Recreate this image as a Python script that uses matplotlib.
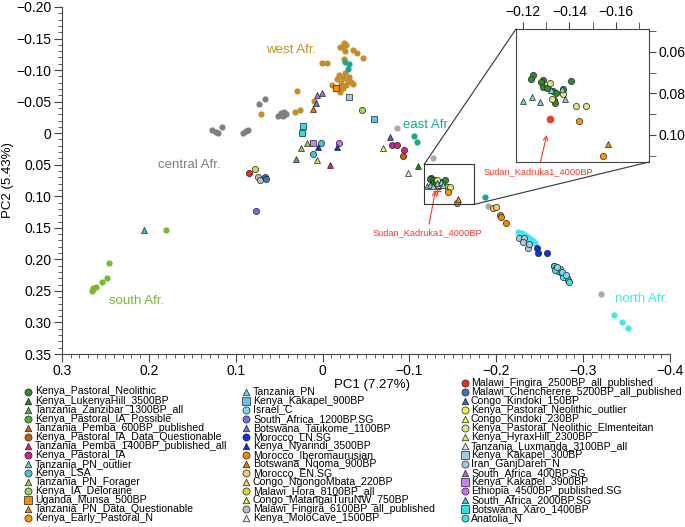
import matplotlib.pyplot as plt
from matplotlib.patches import Rectangle, ConnectionPatch
from matplotlib.ticker import MultipleLocator, FuncFormatter

plt.rcParams['font.family'] = ['Liberation Sans', 'DejaVu Sans']

# ---- reference (background) populations, no legend ----
central_pc1 = [0.127, 0.1228, 0.1201, 0.1155, 0.0914, 0.0883, 0.0856, 0.0736, 0.0664,
               0.0514, 0.048, 0.0445, 0.0422, 0.0491, 0.0457]
central_pc2 = [-0.005, -0.0014, -0.0008, -0.0103, -0.0008, -0.0035, -0.005, -0.0463, -0.0547,
               -0.0273, -0.032, -0.0336, -0.0304, -0.0288, -0.0273]

west_pc1 = [0.071, 0.03, 0.0315, 0.0261, 0.01, 0.0011, -0.0053, -0.0199, -0.0245, -0.0268,
            -0.0222, -0.026, -0.0345, -0.0398, -0.046, -0.0245, -0.0191, -0.0237, -0.0295,
            -0.0326, -0.0207, -0.0268, -0.023, -0.0199, -0.0107, -0.0257, -0.0349, -0.0165,
            -0.0303, -0.0176]
west_pc2 = [-0.0304, -0.0674, -0.0331, -0.0368, -0.051, -0.1117, -0.1117, -0.1371, -0.1434,
            -0.1398, -0.1361, -0.1303, -0.1319, -0.1266, -0.1197, -0.1171, -0.0922, -0.087,
            -0.0827, -0.0807, -0.08, -0.0764, -0.0712, -0.0658, -0.0759, -0.0954, -0.078,
            -0.0859, -0.0891, -0.0716]

east_pc1 = [-0.026, -0.0299, -0.0291, -0.1054, -0.1082, -0.1868]
east_pc2 = [-0.1124, -0.1092, -0.1022, 0.0044, 0.0135, 0.1011]

south_pc1 = [0.18, 0.2459, 0.2482, 0.2543, 0.2609, 0.264, 0.2655, 0.2643]
south_pc2 = [0.1529, 0.2057, 0.2295, 0.2363, 0.2433, 0.2458, 0.2501, 0.2477]

north_pc1 = [-0.2251, -0.227, -0.2292, -0.231, -0.233, -0.235, -0.237, -0.239, -0.241,
             -0.2425, -0.2443, -0.2285, -0.236, -0.3352, -0.3452, -0.3517]
north_pc2 = [0.1561, 0.1575, 0.159, 0.1605, 0.162, 0.164, 0.1655, 0.167, 0.169, 0.1715,
             0.1745, 0.1605, 0.1645, 0.2886, 0.2992, 0.3092]

other_pc1 = [-0.0861, -0.1277, -0.1906, -0.3203]
other_pc2 = [-0.0078, 0.0388, 0.1158, 0.2544]

# ---- ancient / labelled samples ----
sample_group = (
    ['Kenya_Pastoral_Neolithic'] * 12
    + ['Kenya_Pastoral_Neolithic_Elmenteitan'] * 5
    + ['Tanzania_PN'] * 6
    + ['Kenya_Early_Pastoral_N'] * 2
    + ['Tanzania_PN_Data_Questionable']
    + ['Uganda_Munsa_500BP']
    + ['South_Africa_400BP.SG'] * 2
    + ['Botswana_Taukome_1100BP', 'Botswana_Nqoma_900BP', 'Kenya_Kakapel_300BP',
       'Kenya_Kakapel_900BP', 'Kenya_IA_Deloraine']
    + ['Botswana_Xaro_1400BP'] * 2
    + ['Kenya_Kakapel_3900BP']
    + ['Kenya_LSA'] * 2
    + ['Ethiopia_4500BP_published.SG']
    + ['Kenya_Nyarindi_3500BP'] * 2
    + ['Tanzania_PN_Forager'] * 2
    + ['Congo_MatangaiTuruNW_750BP', 'Tanzania_Zanzibar_1300BP_all', 'Kenya_LukenyaHill_3500BP',
       'Tanzania_Pemba_1400BP_published_all']
    + ['Kenya_Pastoral_IA'] * 3
    + ['Kenya_Pastoral_IA_Data_Questionable', 'Congo_Kindoki_230BP', 'Congo_Kindoki_150BP',
       'Kenya_MoloCave_1500BP', 'Malawi_Fingira_2500BP_all_published', 'Malawi_Hora_8100BP_all']
    + ['Malawi_Fingira_6100BP_all_published'] * 2
    + ['Malawi_Chencherere_5200BP_all_published'] * 2
    + ['South_Africa_1200BP.SG', 'South_Africa_2000BP.SG']
    + ['Morocco_EN.SG'] * 2
    + ['Morocco_Iberomaurusian'] * 3
    + ['Iran_GanjDareh_N'] * 5
    + ['Morocco_LN.SG'] * 3
    + ['Anatolia_N'] * 17
    + ['Israel_C'] * 3
)
sample_pc1 = [
    -0.1245, -0.1234, -0.1288, -0.1277, -0.1286, -0.1303, -0.1331, -0.1343, -0.1374, -0.1406, -0.1334, -0.1338,
    -0.1317, -0.1374, -0.1325, -0.1428, -0.1471,
    -0.12, -0.124, -0.1274, -0.132, -0.1367, -0.1383,
    -0.1443, -0.1543,
    -0.1564,
    -0.0153,
    0.0062, 0.0012,
    0.0081, 0.0108, -0.0299, -0.059, -0.0452,
    0.0223, 0.0242,
    0.0112,
    0.002, 0.0112,
    -0.0184,
    0.0051, -0.0168,
    0.0253, 0.0184,
    0.0069, 0.0311, -0.1097, -0.0087,
    -0.0801, -0.0852, -0.0936,
    -0.0928, -0.0697, -0.0778, -0.0978, 0.0852, 0.0779,
    0.0741, 0.0722,
    0.0664, 0.0656,
    0.0768, 0.2056,
    -0.1963, -0.2002,
    -0.204, -0.206, -0.2109,
    -0.2259, -0.2316, -0.2308, -0.2366, -0.2374,
    -0.2474, -0.2486, -0.2589,
    -0.2662, -0.267, -0.2685, -0.27, -0.2715, -0.273, -0.2745, -0.276, -0.2775, -0.279, -0.281,
    -0.2825, -0.2842, -0.2705, -0.2735, -0.2765, -0.268,
    -0.2695, -0.2755, -0.28,
]
sample_pc2 = [
    0.0712, 0.0733, 0.0736, 0.0745, 0.0768, 0.0776, 0.0787, 0.08, 0.0781, 0.0741, 0.0832, 0.0845,
    0.0749, 0.0803, 0.0825, 0.0859, 0.0859,
    0.0835, 0.0816, 0.084, 0.0784, 0.078, 0.0829,
    0.0934, 0.1099,
    0.1043,
    -0.0721,
    -0.0605, -0.0637,
    -0.0483, -0.0379, -0.0578, -0.023, -0.0372,
    -0.0114, -0.0008,
    0.0151,
    0.016, 0.0325,
    0.016,
    0.0219, 0.0214,
    0.0239, 0.0151,
    0.0429, 0.0414, 0.052, 0.0499,
    0.0187, 0.0187, 0.0261,
    0.0357, 0.0239, 0.0065, 0.0635, 0.0631, 0.0572,
    0.0689, 0.0746,
    0.0689, 0.0726,
    0.1228, 0.1534,
    0.119, 0.1174,
    0.1296, 0.1323, 0.1418,
    0.1655, 0.1655, 0.1719, 0.1824, 0.1756,
    0.1824, 0.1903, 0.1894,
    0.21, 0.2105, 0.213, 0.2145, 0.216, 0.2185, 0.22, 0.2215, 0.2245, 0.226, 0.229,
    0.232, 0.2353, 0.219, 0.2145, 0.2275, 0.2175,
    0.2115, 0.2205, 0.2255,
]

sudan_label = 'Sudan_Kadruka1_4000BP'
sudan_pc1 = -0.1317
sudan_pc2 = 0.0922

legend_col1 = ['Kenya_Pastoral_Neolithic', 'Kenya_LukenyaHill_3500BP', 'Tanzania_Zanzibar_1300BP_all',
               'Kenya_Pastoral_IA_Possible', 'Tanzania_Pemba_600BP_published',
               'Kenya_Pastoral_IA_Data_Questionable', 'Tanzania_Pemba_1400BP_published_all',
               'Kenya_Pastoral_IA', 'Tanzania_PN_outlier', 'Kenya_LSA', 'Tanzania_PN_Forager',
               'Kenya_IA_Deloraine', 'Uganda_Munsa_500BP', 'Tanzania_PN_Data_Questionable',
               'Kenya_Early_Pastoral_N']
legend_col2 = ['Tanzania_PN', 'Kenya_Kakapel_900BP', 'Israel_C', 'South_Africa_1200BP.SG',
               'Botswana_Taukome_1100BP', 'Morocco_LN.SG', 'Kenya_Nyarindi_3500BP',
               'Morocco_Iberomaurusian', 'Botswana_Nqoma_900BP', 'Morocco_EN.SG',
               'Congo_NgongoMbata_220BP', 'Malawi_Hora_8100BP_all', 'Congo_MatangaiTuruNW_750BP',
               'Malawi_Fingira_6100BP_all_published', 'Kenya_MoloCave_1500BP']
legend_col3 = ['Malawi_Fingira_2500BP_all_published', 'Malawi_Chencherere_5200BP_all_published',
               'Congo_Kindoki_150BP', 'Kenya_Pastoral_Neolithic_outlier', 'Congo_Kindoki_230BP',
               'Kenya_Pastoral_Neolithic_Elmenteitan', 'Kenya_HyraxHill_2300BP',
               'Tanzania_Luxmanda_3100BP_all', 'Kenya_Kakapel_300BP', 'Iran_GanjDareh_N',
               'South_Africa_400BP.SG', 'Kenya_Kakapel_3900BP', 'Ethiopia_4500BP_published.SG',
               'South_Africa_2000BP.SG', 'Botswana_Xaro_1400BP', 'Anatolia_N']

# ---- styles ----
STYLE = {
    'Kenya_Pastoral_Neolithic': ('o', '#2e8b2e'),
    'Kenya_LukenyaHill_3500BP': ('^', '#2e7d2e'),
    'Tanzania_Zanzibar_1300BP_all': ('^', '#4cb04c'),
    'Kenya_Pastoral_IA_Possible': ('o', '#4cb04c'),
    'Tanzania_Pemba_600BP_published': ('^', '#c8640a'),
    'Kenya_Pastoral_IA_Data_Questionable': ('o', '#b8620c'),
    'Tanzania_Pemba_1400BP_published_all': ('^', '#d8208a'),
    'Kenya_Pastoral_IA': ('o', '#d0208a'),
    'Tanzania_PN_outlier': ('^', '#5ccad0'),
    'Kenya_LSA': ('o', '#40c8d0'),
    'Tanzania_PN_Forager': ('^', '#9acd5a'),
    'Kenya_IA_Deloraine': ('o', '#9ad85a'),
    'Uganda_Munsa_500BP': ('s', '#ff8c00'),
    'Tanzania_PN_Data_Questionable': ('^', '#f08c00'),
    'Kenya_Early_Pastoral_N': ('o', '#ff9500'),
    'Tanzania_PN': ('^', '#7fd0e6'),
    'Kenya_Kakapel_900BP': ('s', '#5cc6ee'),
    'Israel_C': ('o', '#80d4f0'),
    'South_Africa_1200BP.SG': ('o', '#7070e8'),
    'Botswana_Taukome_1100BP': ('^', '#7070d8'),
    'Morocco_LN.SG': ('o', '#1030e0'),
    'Kenya_Nyarindi_3500BP': ('^', '#1030d0'),
    'Morocco_Iberomaurusian': ('o', '#f08800'),
    'Botswana_Nqoma_900BP': ('^', '#e87800'),
    'Morocco_EN.SG': ('o', '#f5c878'),
    'Congo_NgongoMbata_220BP': ('^', '#f5c878'),
    'Malawi_Hora_8100BP_all': ('o', '#d8d838'),
    'Congo_MatangaiTuruNW_750BP': ('^', '#dde040'),
    'Malawi_Fingira_6100BP_all_published': ('o', '#bdbdbd'),
    'Kenya_MoloCave_1500BP': ('^', '#e8e8e8'),
    'Malawi_Fingira_2500BP_all_published': ('o', '#ee2a22'),
    'Malawi_Chencherere_5200BP_all_published': ('o', '#3a78b8'),
    'Congo_Kindoki_150BP': ('^', '#3a6aa8'),
    'Kenya_Pastoral_Neolithic_outlier': ('o', '#ffee44'),
    'Congo_Kindoki_230BP': ('^', '#ffee44'),
    'Kenya_Pastoral_Neolithic_Elmenteitan': ('o', '#d4ec78'),
    'Kenya_HyraxHill_2300BP': ('^', '#d4ec50'),
    'Tanzania_Luxmanda_3100BP_all': ('^', '#d8e4ee'),
    'Kenya_Kakapel_300BP': ('s', '#a8c8dc'),
    'Iran_GanjDareh_N': ('o', '#a8c8dc'),
    'South_Africa_400BP.SG': ('^', '#b860e0'),
    'Kenya_Kakapel_3900BP': ('s', '#c880ee'),
    'Ethiopia_4500BP_published.SG': ('o', '#cc70ee'),
    'South_Africa_2000BP.SG': ('^', '#30c8c8'),
    'Botswana_Xaro_1400BP': ('s', '#30e0e0'),
    'Anatolia_N': ('o', '#40e0e0'),
}
C_CENTRAL = '#7f7f7f'
C_WEST = '#c28e2b'
C_EAST = '#1aa88a'
C_SOUTH = '#7ab82e'
C_NORTH = '#3ee8ee'
C_OTHER = '#aaaaaa'
C_RED = '#ee3b2f'


def fmt(decimals):
    def f(v, pos):
        if abs(v) < 1e-9:
            return '0'
        return ('{:.%df}' % decimals).format(v).replace('-', '\u2212')
    return FuncFormatter(f)


def draw_points(a, sz):
    bg = [(central_pc1, central_pc2, C_CENTRAL), (west_pc1, west_pc2, C_WEST),
          (east_pc1, east_pc2, C_EAST), (south_pc1, south_pc2, C_SOUTH),
          (north_pc1, north_pc2, C_NORTH), (other_pc1, other_pc2, C_OTHER)]
    for x, y, c in bg:
        a.scatter(x, y, s=sz, color=c, lw=0, zorder=2)
    for g, x, y in zip(sample_group, sample_pc1, sample_pc2):
        m, c = STYLE[g]
        a.scatter([x], [y], s=sz if m != '^' else sz * 0.9, marker=m, facecolor=c,
                  edgecolor='#222222', linewidths=0.5, zorder=3)


fig = plt.figure(figsize=(6.85, 5.27), dpi=100)
ax = fig.add_axes([62 / 685, 1 - 354 / 527, 608 / 685, 347 / 527])
draw_points(ax, 20)
ax.scatter([sudan_pc1], [sudan_pc2], marker='+', s=40, color=C_RED, linewidths=1.0, zorder=4)

ax.set_xlim(0.3, -0.4)
ax.set_ylim(0.35, -0.2)
ax.xaxis.set_major_locator(MultipleLocator(0.1))
ax.xaxis.set_minor_locator(MultipleLocator(0.01))
ax.yaxis.set_major_locator(MultipleLocator(0.05))
ax.yaxis.set_minor_locator(MultipleLocator(0.01))
ax.xaxis.set_major_formatter(fmt(1))
ax.yaxis.set_major_formatter(fmt(2))
for s in ['top', 'right']:
    ax.spines[s].set_visible(False)
for s in ['left', 'bottom']:
    ax.spines[s].set_color('#444444')
    ax.spines[s].set_linewidth(0.8)
ax.tick_params(which='major', direction='out', length=5.5, width=0.8, color='#444444',
               labelsize=10, pad=2)
ax.tick_params(which='minor', direction='out', length=2.8, width=0.6, color='#444444')

# axis titles placed in figure pixels (R-style margins)
fig.text(371.7 / 685, 1 - 385 / 527, 'PC1 (7.27%)', fontsize=9.5, ha='center', va='center')
fig.text(8 / 685, 1 - 180.5 / 527, 'PC2 (5.43%)', fontsize=9.5, ha='center', va='center',
         rotation=90)

ax.text(0.0357, -0.1311, 'west Afr.', color=C_WEST, fontsize=9.5, ha='center', va='center')
ax.text(0.1539, 0.0504, 'central Afr.', color=C_CENTRAL, fontsize=9.5, ha='center', va='center')
ax.text(-0.1206, -0.0122, 'east Afr.', color=C_EAST, fontsize=9.5, ha='center', va='center')
ax.text(0.214, 0.2659, 'south Afr.', color=C_SOUTH, fontsize=9.5, ha='center', va='center')
ax.text(-0.3671, 0.2628, 'north Afr.', color=C_NORTH, fontsize=9.5, ha='center', va='center')

# zoom window
zx0, zx1 = -0.1171, -0.1741
zy0, zy1 = 0.0491, 0.113
ax.add_patch(Rectangle((zx0, zy0), zx1 - zx0, zy1 - zy0, fill=False, edgecolor='#333333',
                       lw=0.8, zorder=5))
ax.annotate(sudan_label, xy=(-0.1300, 0.0905), xytext=(-0.1208, 0.1577), color=C_RED,
            fontsize=6.7, ha='center', va='center',
            arrowprops=dict(arrowstyle='->', color=C_RED, lw=0.8, shrinkA=1, shrinkB=0,
                            mutation_scale=8))

axins = fig.add_axes([516 / 685, 1 - 162 / 527, 133 / 685, 133 / 527])
draw_points(axins, 20)
axins.scatter([sudan_pc1], [sudan_pc2], s=30, color=C_RED, lw=0, zorder=4)
axins.set_xlim(zx0, zx1)
axins.set_ylim(zy1, zy0)
axins.xaxis.tick_top()
axins.yaxis.tick_right()
axins.xaxis.set_major_locator(MultipleLocator(0.02))
axins.xaxis.set_minor_locator(MultipleLocator(0.01))
axins.yaxis.set_major_locator(MultipleLocator(0.02))
axins.yaxis.set_minor_locator(MultipleLocator(0.01))
axins.xaxis.set_major_formatter(fmt(2))
axins.yaxis.set_major_formatter(fmt(2))
for s in axins.spines.values():
    s.set_color('#444444')
    s.set_linewidth(0.8)
axins.tick_params(which='major', direction='out', length=5, width=0.8, color='#444444',
                  labelsize=10, pad=2)
axins.tick_params(which='minor', direction='out', length=5, width=0.6, color='#444444')
axins.annotate(sudan_label, xy=(-0.1303, 0.1000), xytext=(-0.1266, 0.1176), color=C_RED,
               fontsize=6.7, ha='center', va='center', annotation_clip=False,
               arrowprops=dict(arrowstyle='->', color=C_RED, lw=0.8, shrinkA=1, shrinkB=0,
                               mutation_scale=8))

for xy in [(zx0, zy0), (zx1, zy1)]:
    con = ConnectionPatch(xyA=xy, coordsA=ax.transData, xyB=xy, coordsB=axins.transData,
                          color='#333333', lw=0.8)
    fig.add_artist(con)

# legend (three columns below the plot)
lax = fig.add_axes([0, 0, 1, 1], zorder=-1)
lax.set_xlim(0, 685)
lax.set_ylim(527, 0)
lax.axis('off')
cols = [(legend_col1, 28.5, 35, 391.5), (legend_col2, 246.5, 253, 391.5),
        (legend_col3, 465.5, 471, 382.5)]
dy = 9.05
for names, mx, tx, y0 in cols:
    for i, name in enumerate(names):
        m, c = STYLE[name]
        y = y0 + i * dy
        lax.scatter([mx], [y], marker=m, s=26 if m != '^' else 22, facecolor=c,
                    edgecolor='#222222', linewidths=0.5)
        lax.text(tx, y, name, fontsize=7.6, ha='left', va='center')

fig.savefig('out.png', dpi=100)
